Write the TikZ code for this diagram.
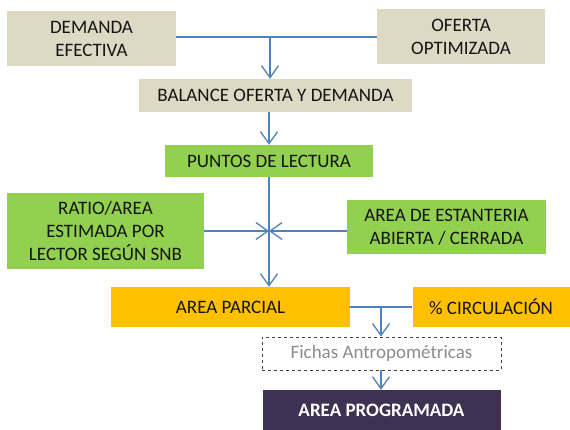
\documentclass[tikz,border=0pt]{standalone}
\usepackage{fontspec}
\setmainfont{Carlito}
\usetikzlibrary{arrows.meta}
\definecolor{tanbox}{HTML}{DDD9C4}
\definecolor{greenbox}{HTML}{92D050}
\definecolor{orangebox}{HTML}{FFC000}
\definecolor{purplebox}{HTML}{3F3151}
\definecolor{linkblue}{HTML}{4F81BD}
\definecolor{txtdark}{HTML}{141414}
\definecolor{fichagray}{HTML}{8C8C8C}
\definecolor{dashgray}{HTML}{404040}
\begin{document}
\begin{tikzpicture}[x=1pt,y=-1pt,
  box/.style={inner sep=0pt, align=center, text=txtdark,
    font=\fontsize{19}{23}\selectfont},
  tanstyle/.style={box, fill=tanbox},
  greenstyle/.style={box, fill=greenbox},
  orangestyle/.style={box, fill=orangebox},
  link/.style={draw=linkblue, line width=1.3pt},
  arrowlink/.style={link, -{Straight Barb[length=12pt,width=17pt,line width=1.3pt]}}]
\useasboundingbox (0,0) rectangle (570,430);

\node[tanstyle, minimum width=169pt, minimum height=55pt] (dem) at (91.5,38.5) {DEMANDA\\EFECTIVA};
\node[tanstyle, minimum width=168pt, minimum height=55pt] (ofe) at (461,36.5) {OFERTA\\OPTIMIZADA};
\node[tanstyle, minimum width=273pt, minimum height=33pt] (bal) at (275.5,95.5) {BALANCE OFERTA Y DEMANDA};
\node[greenstyle, minimum width=208pt, minimum height=32pt] (pun) at (269,161) {PUNTOS DE LECTURA};
\node[greenstyle, minimum width=197pt, minimum height=76pt] (rat) at (105.5,231) {RATIO/AREA\\ESTIMADA POR\\LECTOR SEGÚN SNB};
\node[greenstyle, minimum width=199pt, minimum height=54pt] (est) at (446.5,227) {AREA DE ESTANTERIA\\ABIERTA / CERRADA};
\node[orangestyle, minimum width=239pt, minimum height=40pt] (par) at (230.5,307) {AREA PARCIAL};
\node[orangestyle, minimum width=157pt, minimum height=40pt] (cir) at (491,307) {\% CIRCULACIÓN};
\node[box, text=fichagray, draw=dashgray, dashed, line width=0.8pt, minimum width=239pt, minimum height=33pt] (fic) at (381.5,353.5) {Fichas Antropométricas};
\node[box, fill=purplebox, text=white, font=\fontsize{19}{23}\selectfont\bfseries, minimum width=238pt, minimum height=40pt] (pro) at (381.5,410) {AREA PROGRAMADA};

\coordinate (j1) at (270,37);
\coordinate (j2) at (269,231);
\coordinate (j3) at (381,307);

\draw[link] (dem.east |- j1) -- (ofe.west |- j1);
\draw[arrowlink] (j1) -- (j1 |- bal.north);
\draw[arrowlink] (pun.north |- bal.south) -- (pun.north);
\draw[arrowlink] (pun.south) -- (pun.south |- par.north);
\draw[arrowlink] (rat.east |- j2) -- (j2);
\draw[arrowlink] (est.west |- j2) -- (j2);
\draw[link] (par.east) -- (cir.west);
\draw[arrowlink] (j3) -- (j3 |- fic.north);
\draw[arrowlink] (j3 |- fic.south) -- (j3 |- pro.north);
\end{tikzpicture}
\end{document}
